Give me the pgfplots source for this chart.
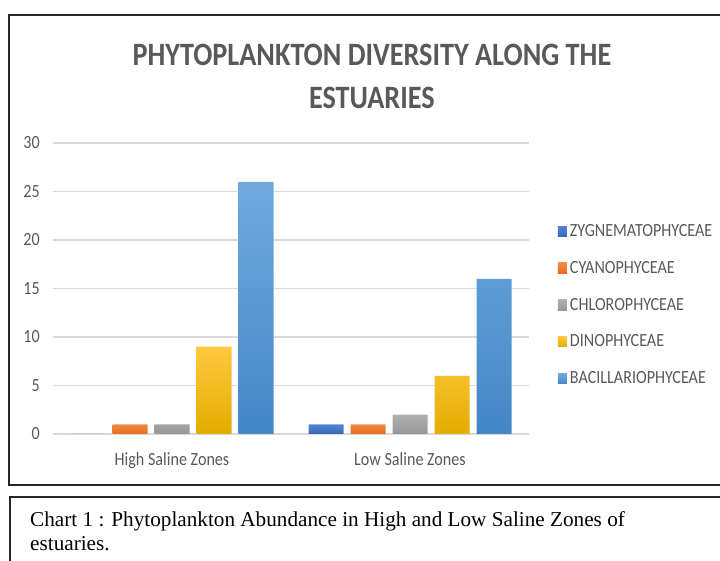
\documentclass[border=0pt]{standalone}
\usepackage{fontspec}
\usepackage{pgfplots}
\pgfplotsset{compat=1.18}
\newfontfamily\chartfont[FakeStretch=0.866]{Carlito}
\newfontfamily\capfont{Liberation Serif}
\definecolor{txt}{HTML}{595959}
\definecolor{gridc}{HTML}{D9D9D9}
\definecolor{zygT}{HTML}{5385D6}\definecolor{zygB}{HTML}{3A67B8}
\definecolor{cyaT}{HTML}{F48A45}\definecolor{cyaB}{HTML}{E26B1C}
\definecolor{chlT}{HTML}{B0B0B0}\definecolor{chlB}{HTML}{969696}
\definecolor{dinT}{HTML}{FFC83F}\definecolor{dinB}{HTML}{E3AC00}
\definecolor{bacT}{HTML}{72AADF}\definecolor{bacB}{HTML}{4386C6}
\begin{document}
\begin{tikzpicture}[x=1pt,y=1pt]
\useasboundingbox (0,0) rectangle (720,561);
\draw[line width=2pt, black!85] (720,546) -- (9,546) -- (9,76) -- (720,76);
\draw[line width=2pt, black!85] (720,64) -- (10,64) -- (10,0);
\begin{axis}[
  at={(53pt,127pt)}, anchor=south west,
  scale only axis, width=476pt, height=291pt,
  ybar=7pt, bar width=35pt,
  xmin=-0.5, xmax=1.5, ymin=0, ymax=30,
  xtick={0,1}, xticklabels={High Saline Zones, Low Saline Zones},
  ytick={0,5,...,30},
  /pgf/number format/assume math mode=true,
  axis line style={draw=none}, major tick length=0pt,
  ymajorgrids, grid style={gridc, line width=1.5pt},
  tick label style={font=\chartfont\fontsize{18.6}{20}\selectfont, text=txt},
  yticklabel style={anchor=east, inner sep=0pt, xshift=-13pt},
  xticklabel style={anchor=base, inner sep=0pt, yshift=-32pt},
  title={PHYTOPLANKTON DIVERSITY ALONG THE\\ESTUARIES},
  title style={at={(0.670,1.0962)}, anchor=south, inner sep=0pt, align=center,
    font=\chartfont\bfseries\fontsize{32.6}{43}\selectfont, text=txt},
  legend style={at={(1.0609,0.7196)}, anchor=north west, draw=none, fill=none,
    inner sep=0pt, outer sep=0pt, row sep=24.8pt, column sep=3pt,
    font=\chartfont\fontsize{18.6}{20}\selectfont, text=txt,
    nodes={inner sep=0pt, text height=12pt, text depth=0pt}},
  legend cell align=left,
  legend image code/.code={\path[#1,draw=none] (0pt,-6pt) rectangle (9pt,4.5pt);},
]
\addplot[draw=none, top color=zygT, bottom color=zygB] coordinates {(0,0) (1,1)};
\addplot[draw=none, top color=cyaT, bottom color=cyaB] coordinates {(0,1) (1,1)};
\addplot[draw=none, top color=chlT, bottom color=chlB] coordinates {(0,1) (1,2)};
\addplot[draw=none, top color=dinT, bottom color=dinB] coordinates {(0,9) (1,6)};
\addplot[draw=none, top color=bacT, bottom color=bacB] coordinates {(0,26) (1,16)};
\legend{ZYGNEMATOPHYCEAE, CYANOPHYCEAE, CHLOROPHYCEAE, DINOPHYCEAE, BACILLARIOPHYCEAE}
\end{axis}
\node[anchor=base west, inner sep=0pt, font=\capfont\fontsize{21.2}{24}\selectfont] at (30,34) {Chart 1 : Phytoplankton Abundance in High and Low Saline Zones of};
\node[anchor=base west, inner sep=0pt, font=\capfont\fontsize{21.2}{24}\selectfont] at (30,10) {estuaries.};
\end{tikzpicture}
\end{document}
